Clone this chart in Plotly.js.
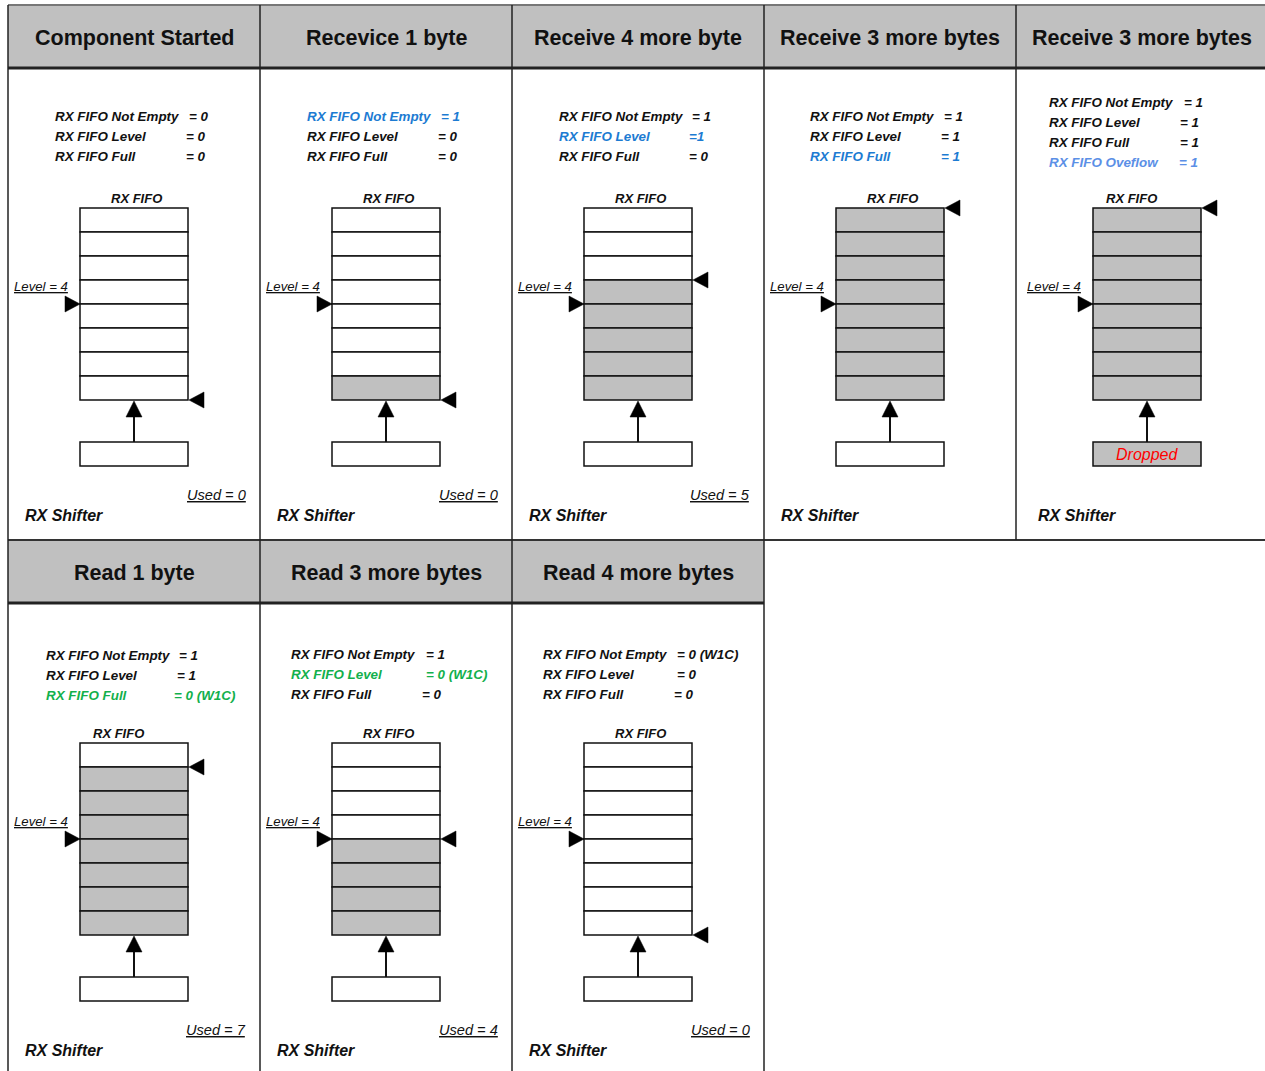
<!DOCTYPE html>
<html><head><meta charset="utf-8">
<script src="https://cdn.plot.ly/plotly-3.0.1.min.js"></script>
<style>html,body{margin:0;padding:0;background:#fff}#chart{width:1265px;height:1071px}</style>
</head><body><div id="chart"></div>
<script>
// ---------- DATA ----------
const stepTitles = ["Component Started", "Recevice 1 byte", "Receive 4 more byte", "Receive 3 more bytes",
  "Receive 3 more bytes", "Read 1 byte", "Read 3 more bytes", "Read 4 more bytes"];
const statusLabels = [
  ["RX FIFO Not Empty", "RX FIFO Level", "RX FIFO Full"],
  ["RX FIFO Not Empty", "RX FIFO Level", "RX FIFO Full"],
  ["RX FIFO Not Empty", "RX FIFO Level", "RX FIFO Full"],
  ["RX FIFO Not Empty", "RX FIFO Level", "RX FIFO Full"],
  ["RX FIFO Not Empty", "RX FIFO Level", "RX FIFO Full", "RX FIFO Oveflow"],
  ["RX FIFO Not Empty", "RX FIFO Level", "RX FIFO Full"],
  ["RX FIFO Not Empty", "RX FIFO Level", "RX FIFO Full"],
  ["RX FIFO Not Empty", "RX FIFO Level", "RX FIFO Full"]
];
const statusValues = [
  ["= 0", "= 0", "= 0"],
  ["= 1", "= 0", "= 0"],
  ["= 1", "=1", "= 0"],
  ["= 1", "= 1", "= 1"],
  ["= 1", "= 1", "= 1", "= 1"],
  ["= 1", "= 1", "= 0 (W1C)"],
  ["= 1", "= 0 (W1C)", "= 0"],
  ["= 0 (W1C)", "= 0", "= 0"]
];
const highlightLine = [-1, 0, 1, 2, 3, 2, 1, -1];
const highlightKind = ["", "blue", "blue", "blue", "lightblue", "green", "green", ""];
const fifoFilled = [
  [0, 0, 0, 0, 0, 0, 0, 0],
  [0, 0, 0, 0, 0, 0, 0, 1],
  [0, 0, 0, 1, 1, 1, 1, 1],
  [1, 1, 1, 1, 1, 1, 1, 1],
  [1, 1, 1, 1, 1, 1, 1, 1],
  [0, 1, 1, 1, 1, 1, 1, 1],
  [0, 0, 0, 0, 1, 1, 1, 1],
  [0, 0, 0, 0, 0, 0, 0, 0]
];
const writePointer = [8, 8, 3, 0, 0, 1, 4, 8];
const levelThreshold = 4;
const usedBytes = [0, 0, 5, null, null, 7, 4, 0];
const shifterDropped = [false, false, false, false, true, false, false, false];

// ---------- GEOMETRY (layout only) ----------
const G = {
  colW: 252, left0: 8, rowH: 535, top0: 5, headerH: 63, cell: 24, nCells: 8,
  fifoX: 72, fifoW: 108, fifoTop: 203, shifterTop: 437, shifterH: 24,
  statusTop: [111, 111, 111, 111, 97, 115, 114, 114],
  statusLabelX: [46, 46, 46, 45, 32, 37, 30, 30],
  statusValX: [[180, 177, 177], [180, 177, 177], [179, 176, 176], [179, 176, 176], [167, 163, 163, 162],
    [170, 168, 165], [165, 165, 161], [164, 164, 161]],
  panelDx: [0, 0, 0, 0, 5, 0, 0, 0],
  fifoLabelDx: [0, 0, 0, 0, -13, -18, 0, 0]
};
const colors = { blue: "#1c7bd2", lightblue: "#5b8fe6", green: "#12b04c", gray: "#c0c0c0" };
const FONT = "Liberation Sans, Arial, sans-serif";

const shapes = [];
const annotations = [];
function rect(x0, y0, x1, y1, fill, lw, lc) {
  shapes.push({ type: "rect", xref: "x", yref: "y", x0, y0, x1, y1, fillcolor: fill,
    line: { width: lw, color: lc || "#111" } });
}
function line(x0, y0, x1, y1, w, c) {
  shapes.push({ type: "line", xref: "x", yref: "y", x0, y0, x1, y1, line: { width: w, color: c || "#111" } });
}
function tri(pts) {
  shapes.push({ type: "path", xref: "x", yref: "y", fillcolor: "#000", line: { width: 0.5, color: "#000" },
    path: "M" + pts.map(p => p[0] + "," + p[1]).join(" L") + " Z" });
}
function text(x, y, t, opts) {
  annotations.push(Object.assign({ x, y, xref: "x", yref: "y", text: t, showarrow: false,
    xanchor: "left", yanchor: "middle", borderpad: 0 }, opts));
}

// headers backgrounds
rect(G.left0, G.top0, 1265, G.top0 + G.headerH, colors.gray, 0, colors.gray);
rect(G.left0, G.top0 + G.rowH, G.left0 + 3 * G.colW, G.top0 + G.rowH + G.headerH, colors.gray, 0, colors.gray);

stepTitles.forEach((title, i) => {
  const row = i < 5 ? 0 : 1;
  const col = i < 5 ? i : i - 5;
  const L = G.left0 + col * G.colW;
  const T = G.top0 + row * G.rowH;
  const dx = G.panelDx[i];

  // header title
  text(L + 126, T + 33, title, { xanchor: "center", font: { family: FONT, size: 21.5, weight: "bold", color: "#111" } });

  // status lines
  statusLabels[i].forEach((lab, k) => {
    let c = "#111";
    if (k === highlightLine[i]) c = colors[highlightKind[i]];
    const y = T + G.statusTop[i] + 20 * k;
    const f = { family: FONT, size: 13.4, weight: "bold", style: "italic", color: c };
    text(L + G.statusLabelX[i], y, lab, { font: f });
    text(L + G.statusValX[i][k], y, statusValues[i][k], { font: f });
  });

  // FIFO
  const fx0 = L + G.fifoX + dx, fx1 = fx0 + G.fifoW;
  const fy0 = T + G.fifoTop;
  const fy1 = fy0 + G.nCells * G.cell;
  const cx = (fx0 + fx1) / 2;
  text(L + 128 + G.fifoLabelDx[i], fy0 - 10, "RX FIFO",
    { xanchor: "center", font: { family: FONT, size: 13, weight: "bold", style: "italic", color: "#111" } });
  fifoFilled[i].forEach((f, k) => {
    rect(fx0, fy0 + k * G.cell, fx1, fy0 + (k + 1) * G.cell, f ? colors.gray : "#fff", 1.5);
  });

  // level pointer
  const ly = fy0 + (G.nCells - levelThreshold) * G.cell;
  tri([[fx0 - 15, ly - 8], [fx0, ly], [fx0 - 15, ly + 8]]);
  text(L + 5 + dx, T + 281, "Level = " + levelThreshold,
    { font: { family: FONT, size: 13.2, style: "italic", color: "#111", lineposition: "under" } });

  // write pointer
  const wy = fy0 + writePointer[i] * G.cell;
  tri([[fx1 + 1, wy], [fx1 + 16, wy - 8], [fx1 + 16, wy + 8]]);

  // shifter and arrow
  const sy0 = T + G.shifterTop, sy1 = sy0 + G.shifterH;
  rect(fx0, sy0, fx1, sy1, shifterDropped[i] ? colors.gray : "#fff", 1.5);
  if (shifterDropped[i]) {
    text(cx, (sy0 + sy1) / 2, "Dropped", { xanchor: "center", font: { family: FONT, size: 16, style: "italic", color: "#ff0000" } });
  }
  line(cx, sy0, cx, fy1 + 16, 2);
  tri([[cx, fy1 + 1], [cx - 8, fy1 + 17], [cx + 8, fy1 + 17]]);

  if (usedBytes[i] !== null) {
    text(L + 239, T + 490, "Used = " + usedBytes[i],
      { xanchor: "right", font: { family: FONT, size: 14.6, style: "italic", color: "#111", lineposition: "under" } });
  }
  text(L + 16 + dx, T + 510, "RX Shifter", { font: { family: FONT, size: 16, weight: "bold", style: "italic", color: "#111" } });
});

// grid lines
line(G.left0, G.top0, 1265, G.top0, 2, "#777");
line(G.left0, G.top0 + G.headerH, 1265, G.top0 + G.headerH, 3, "#222");
line(G.left0, G.top0 + G.rowH, 1265, G.top0 + G.rowH, 2, "#333");
line(G.left0, G.top0 + G.rowH + G.headerH, G.left0 + 3 * G.colW, G.top0 + G.rowH + G.headerH, 3, "#222");
for (let c = 0; c < 5; c++) line(G.left0 + c * G.colW, G.top0, G.left0 + c * G.colW, G.top0 + G.rowH, 1.5, "#222");
for (let c = 0; c < 4; c++) line(G.left0 + c * G.colW, G.top0 + G.rowH, G.left0 + c * G.colW, 1071, 1.5, "#222");

const layout = {
  width: 1265, height: 1071,
  margin: { l: 0, r: 0, t: 0, b: 0 },
  paper_bgcolor: "#fff", plot_bgcolor: "#fff",
  xaxis: { range: [0, 1265], visible: false, fixedrange: true },
  yaxis: { range: [1071, 0], visible: false, fixedrange: true },
  showlegend: false,
  shapes, annotations
};
Plotly.newPlot("chart", [{ x: [], y: [], type: "scatter", mode: "markers", hoverinfo: "skip" }], layout,
  { displayModeBar: false, staticPlot: true });
</script>
</body></html>
